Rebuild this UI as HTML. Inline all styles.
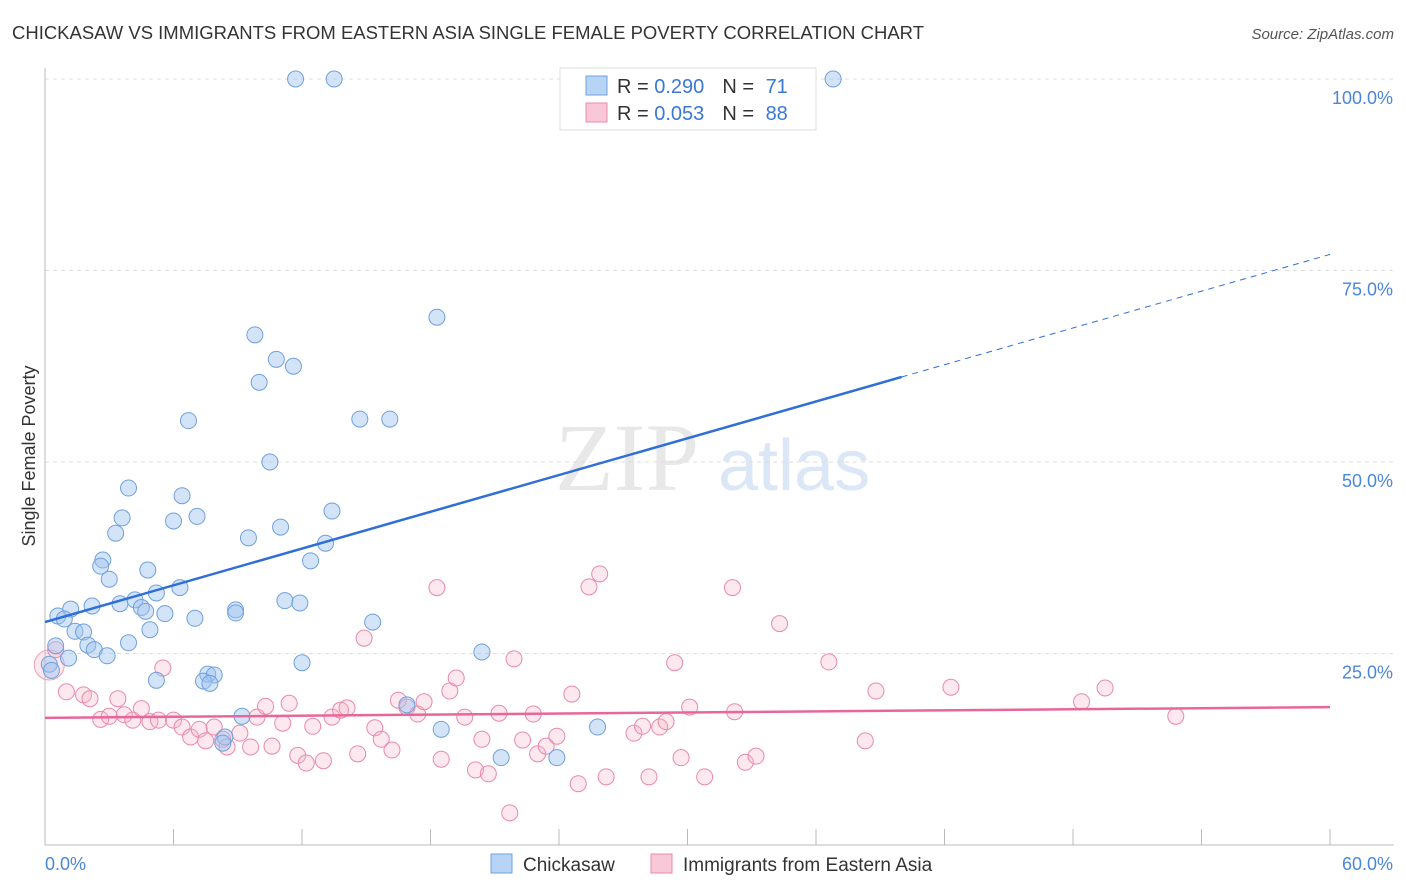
<!DOCTYPE html>
<html><head><meta charset="utf-8">
<style>
body{margin:0;background:#fff;font-family:"Liberation Sans",sans-serif;}
#wrap{position:relative;width:1406px;height:892px;overflow:hidden;}
</style></head>
<body>
<div id="wrap">
<svg id="svg" width="1406" height="892" xmlns="http://www.w3.org/2000/svg">
<text x="12" y="39" font-size="18" fill="#333" textLength="912" lengthAdjust="spacingAndGlyphs">CHICKASAW VS IMMIGRANTS FROM EASTERN ASIA SINGLE FEMALE POVERTY CORRELATION CHART</text>
<text x="1394" y="39" font-size="15" fill="#555" font-style="italic" text-anchor="end">Source: ZipAtlas.com</text>
<text x="35" y="456" font-size="18" fill="#333" text-anchor="middle" transform="rotate(-90 35 456)">Single Female Poverty</text>
<text x="555" y="490" font-size="96" fill="#e8e8e8" font-family="Liberation Serif,serif">ZIP</text>
<text x="718" y="490" font-size="72" fill="#dbe7f6">atlas</text>
<g id="grid"></g>
<g id="axes"></g>
<g id="marks"></g>
<g id="legend">
<rect x="560" y="68" width="256" height="62" fill="#fff" stroke="#ddd"/>
<rect x="586" y="76" width="21" height="19" fill="#b8d4f5" stroke="#6fa0dd"/>
<rect x="586" y="103" width="21" height="19" fill="#f9c8d8" stroke="#e88aa8"/>
<text x="617" y="93" font-size="20" fill="#333">R = <tspan fill="#3a78d4">0.290</tspan><tspan dx="18">N = </tspan><tspan fill="#3a78d4" dx="6">71</tspan></text>
<text x="617" y="120" font-size="20" fill="#333">R = <tspan fill="#3a78d4">0.053</tspan><tspan dx="18">N = </tspan><tspan fill="#3a78d4" dx="6">88</tspan></text>
</g>
<g>
<rect x="491" y="854" width="21" height="19" fill="#b8d4f5" stroke="#6fa0dd"/>
<text x="523" y="871" font-size="19" fill="#333">Chickasaw</text>
<rect x="651" y="854" width="21" height="19" fill="#f9c8d8" stroke="#e88aa8"/>
<text x="683" y="871" font-size="19" fill="#333">Immigrants from Eastern Asia</text>
</g>
</svg>
</div>
<script>
const yTicks=[100,75,50,25];
const yTickLabels=["100.0%","75.0%","50.0%","25.0%"];
const xTicks=[0,6,12,18,24,30,36,42,48,54,60];
const blueX=[11.7,13.5,36.8,18.3,9.8,10.8,11.6,10.0,6.7,14.7,16.1,10.5,3.9,6.4,3.6,7.1,6.0,13.4,3.3,11.0,9.5,13.1,2.7,12.4,2.6,4.8,3.0,6.3,5.2,4.2,2.2,3.5,1.2,11.2,11.9,4.5,4.7,5.6,8.9,8.9,0.6,0.9,7.0,15.3,1.4,1.8,4.9,3.9,2.0,0.5,2.3,2.9,20.4,1.1,12.0,0.2,0.3,7.6,7.9,7.4,7.7,5.2,16.9,9.2,18.5,25.8,8.4,8.3,21.3,23.9];
const blueY=[100,100,100,68.9,66.6,63.4,62.5,60.4,55.4,55.6,55.6,50.0,46.6,45.6,42.7,42.9,42.3,43.6,40.7,41.5,40.1,39.4,37.2,37.1,36.4,35.9,34.7,33.6,32.9,32.0,31.2,31.5,30.8,31.9,31.6,31.0,30.5,30.2,30.7,30.3,29.9,29.5,29.6,29.1,27.9,27.8,28.1,26.4,26.1,26.0,25.5,24.7,25.2,24.4,23.8,23.6,22.8,22.3,22.2,21.4,21.1,21.5,18.3,16.8,15.1,15.4,14.1,13.3,11.4,11.4];
const pinkX=[0.5,1.0,1.8,2.1,3.4,2.6,3.0,3.7,4.1,4.5,4.9,5.3,5.5,6.0,6.4,6.8,7.2,7.5,7.9,8.3,8.5,9.1,9.6,9.9,10.3,10.6,11.1,11.4,11.8,12.2,12.5,13.0,13.4,13.8,14.1,14.6,14.9,15.4,15.7,16.2,16.5,16.9,17.4,17.7,18.3,18.5,18.9,19.2,19.6,20.1,20.4,20.7,21.2,21.9,22.3,22.8,23.0,23.4,23.9,21.7,24.6,24.9,25.4,25.9,26.2,27.5,27.9,28.2,28.7,29.0,29.4,29.7,30.1,30.8,32.1,32.2,32.7,33.2,34.3,36.6,38.3,38.8,42.3,48.4,49.5,52.8];
const pinkY=[25.5,20.0,19.6,19.1,19.1,16.4,16.8,17.0,16.3,17.8,16.1,16.3,23.1,16.3,15.4,14.1,15.1,13.6,15.4,13.8,12.8,14.6,12.8,16.7,18.1,12.9,15.9,18.5,11.7,10.7,15.5,11.0,16.7,17.6,17.9,11.9,27.0,15.3,13.8,12.4,18.9,18.0,17.1,18.7,33.6,11.2,20.1,21.8,16.7,9.8,13.8,9.3,17.2,24.3,13.7,17.1,11.9,12.9,14.2,4.2,19.7,8.0,33.7,35.4,8.9,14.6,15.5,8.9,15.4,16.1,23.8,11.4,18.0,8.9,33.6,17.4,10.8,11.6,28.9,23.9,13.6,20.1,20.6,18.7,20.5,16.8];
const blueTrend=[29.1,0.8];
const pinkTrend=[16.6,0.0233];

const NS="http://www.w3.org/2000/svg";
const X=v=>45+v*(1330-45)/60;
const Y=v=>845-v*(845-79)/100;
function mk(tag,attrs,parent){const e=document.createElementNS(NS,tag);for(const k in attrs)e.setAttribute(k,attrs[k]);document.getElementById(parent).appendChild(e);return e;}

yTicks.forEach((t,i)=>{
  const g=mk('line',{x1:45,x2:1394,y1:Y(t),y2:Y(t),stroke:'#ddd','stroke-dasharray':'4,4'},'grid');
  
  
  const l=mk('text',{x:1393,y:Y(t)+25,'font-size':18,fill:'#4a86d8','text-anchor':'end'},'axes');
  l.textContent=yTickLabels[i];
  
  
});
const ax=mk('line',{x1:45,x2:45,y1:68,y2:845,stroke:'#bbb'},'axes');


const bx=mk('line',{x1:45,x2:1394,y1:845,y2:845,stroke:'#bbb'},'axes');


xTicks.forEach(t=>{
  const k=mk('line',{x1:X(t),x2:X(t),y1:829,y2:845,stroke:'#bbb'},'axes');
  
  
});
const x0=mk('text',{x:45,y:870,'font-size':18,fill:'#4a86d8'},'axes');x0.textContent='0.0%';


const x1=mk('text',{x:1393,y:870,'font-size':18,fill:'#4a86d8','text-anchor':'end'},'axes');x1.textContent='60.0%';



const big=mk('circle',{cx:X(0.2),cy:Y(23.5),r:15,fill:'rgba(245,180,200,0.3)',stroke:'#eea0b8','stroke-width':1},'marks');


pinkX.forEach((v,i)=>{
  const c=mk('circle',{cx:X(v),cy:Y(pinkY[i]),r:8,fill:'rgba(245,180,200,0.3)',stroke:'#e88aa8','stroke-width':1},'marks');
  
  
});
blueX.forEach((v,i)=>{
  const c=mk('circle',{cx:X(v),cy:Y(blueY[i]),r:8,fill:'rgba(160,196,240,0.45)',stroke:'#6fa0dd','stroke-width':1},'marks');
  
  
});
const bt=v=>blueTrend[0]+blueTrend[1]*v;
const pt=v=>pinkTrend[0]+pinkTrend[1]*v;
const l1=mk('line',{x1:X(0),y1:Y(bt(0)),x2:X(40),y2:Y(bt(40)),stroke:'#2f6fd6','stroke-width':2.5},'marks');


const l2=mk('line',{x1:X(40),y1:Y(bt(40)),x2:X(60),y2:Y(bt(60)),stroke:'#2f6fd6','stroke-width':1,'stroke-dasharray':'6,5'},'marks');


const l3=mk('line',{x1:X(0),y1:Y(pt(0)),x2:X(60),y2:Y(pt(60)),stroke:'#e8679a','stroke-width':2.5},'marks');


</script>
</body></html>
